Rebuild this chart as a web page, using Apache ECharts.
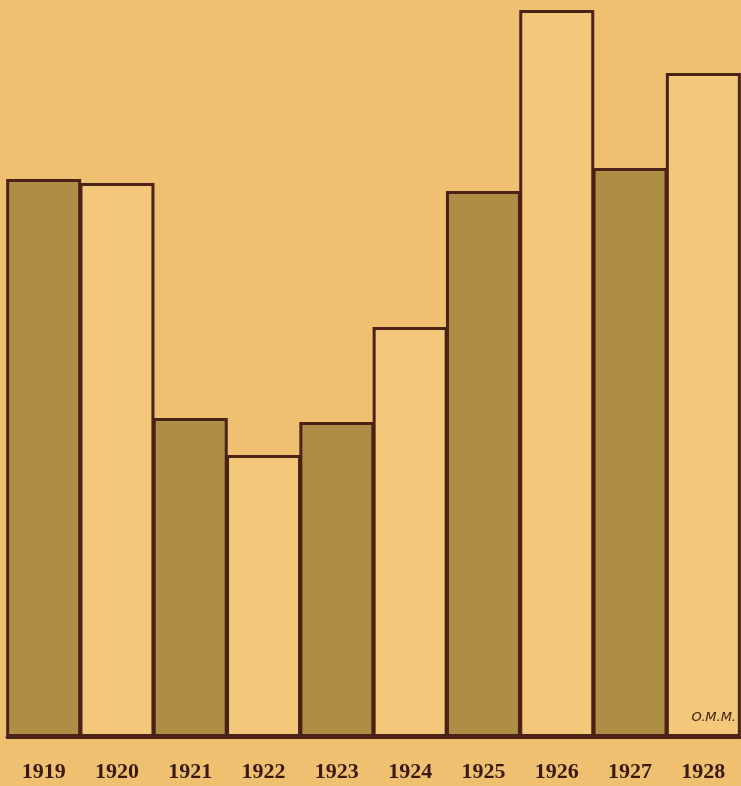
<!DOCTYPE html>
<html>
<head>
    <meta charset="utf-8" />
    <title>1919 - 1928</title>
    <script src="https://cdnjs.cloudflare.com/ajax/libs/echarts/6.0.0/echarts.min.js"></script>
    <style>
        body, html {
            margin: 0;
            padding: 0;
            background: #efc070;
        }
        #chart {
            width: 741px;
            height: 786px;
        }
    </style>
</head>
<body>
<div id="chart"></div>
<script type="text/javascript">
    // years along the bottom
    var years = ['1919', '1920', '1921', '1922', '1923', '1924', '1925', '1926', '1927', '1928'];
    // bar heights (no scale is printed)
    var values = [558, 554, 319, 282, 315, 410, 546, 727, 569, 664];

    var ink = '#4a2216';
    var darkFill = '#ae8d45';
    var lightFill = '#f3c87a';

    var chart = echarts.init(document.getElementById('chart'));
    var option = {
        backgroundColor: '#efc070',
        grid: {
            left: 7,
            right: 1,
            top: 0,
            bottom: 49
        },
        xAxis: {
            type: 'category',
            data: years,
            axisTick: { show: false },
            axisLine: {
                show: true,
                lineStyle: { color: ink, width: 3 }
            },
            axisLabel: {
                margin: 24,
                fontFamily: 'Liberation Serif',
                fontWeight: 'bold',
                fontSize: 22,
                color: '#3a1a10'
            }
        },
        yAxis: {
            type: 'value',
            min: 0,
            max: 737,
            show: false,
            splitLine: { show: false }
        },
        series: [
            {
                type: 'bar',
                barWidth: 75,
                barGap: '-100%',
                data: values.map(function (v, i) {
                    return {
                        value: v,
                        itemStyle: {
                            color: i % 2 === 0 ? darkFill : lightFill,
                            borderColor: ink,
                            borderWidth: 3
                        }
                    };
                })
            }
        ],
        graphic: [
            {
                type: 'text',
                z: 100,
                x: 736,
                y: 718,
                style: {
                    text: 'O.M.M.',
                    textAlign: 'right',
                    textVerticalAlign: 'middle',
                    font: 'italic 13px "DejaVu Sans"',
                    fill: '#3a1a10'
                }
            }
        ]
    };
    chart.setOption(option);
</script>
</body>
</html>
